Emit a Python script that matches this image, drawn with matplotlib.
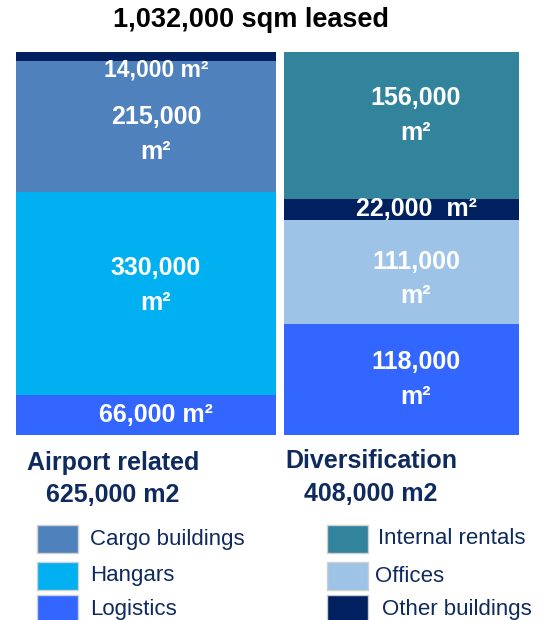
import matplotlib
matplotlib.use("Agg")
import matplotlib.pyplot as plt
from matplotlib.patches import Rectangle

plt.rcParams["font.family"] = ["Liberation Sans", "DejaVu Sans"]

# data (m², thousands) -- each bar is stacked bottom to top
bars = ["Airport related", "Diversification"]
bar_totals = ["625,000 m2", "408,000 m2"]
airport_segments = ["Logistics", "Hangars", "Cargo buildings", "Other buildings"]
airport_values = [66, 330, 215, 14]
airport_labels = ["66,000 m²", "330,000\nm²", "215,000\nm²", "14,000 m²"]
divers_segments = ["Logistics", "Offices", "Other buildings", "Internal rentals"]
divers_values = [118, 111, 22, 156]
divers_labels = ["118,000\nm²", "111,000\nm²", "22,000  m²", "156,000\nm²"]
title = "1,032,000 sqm leased"

COLORS = {
    "Cargo buildings": "#4F81BD",
    "Hangars": "#00B0F0",
    "Logistics": "#3366FF",
    "Internal rentals": "#31849B",
    "Offices": "#9DC3E6",
    "Other buildings": "#002060",
}
NAVY = "#0F2A5F"

W, H = 546, 620
fig = plt.figure(figsize=(W / 100, H / 100), dpi=100)
fig.patch.set_facecolor("white")


def fig_box(x0, y0, x1, y1):
    # pixel box (top-left origin) -> figure fraction
    return [x0 / W, 1 - y1 / H, (x1 - x0) / W, (y1 - y0) / H]


BAR_PX = 383  # bar height in pixels, used for label nudges
ax = fig.add_axes(fig_box(16, 52, 519, 52 + BAR_PX))
ax.set_xlim(0, 503)
ax.set_ylim(0, 1)
ax.axis("off")

# label nudges in pixels (positive = up), per segment, bottom to top
airport_nudge = [0, 8, -8, 0]
divers_nudge = [0, -7, 0, 10]

stacks = [
    (airport_segments, airport_values, airport_labels, airport_nudge, 0, 260, 140),
    (divers_segments, divers_values, divers_labels, divers_nudge, 268, 235, 400),
]
for segs, vals, labels, nudges, x0, width, label_x in stacks:
    total = sum(vals)
    bottom = 0.0
    for seg, v, lab, dy in zip(segs, vals, labels, nudges):
        frac = v / total
        ax.bar(x0, frac, width=width, bottom=bottom, align="edge",
               color=COLORS[seg], edgecolor="none")
        if seg == "Other buildings" and x0 == 0:
            # thin top strip, label sits just below it
            y_text = bottom - 0.025
            size = 16.5
        else:
            y_text = bottom + frac / 2 + dy / BAR_PX
            size = 18
        ax.text(label_x, y_text, lab, color="white", fontsize=size,
                fontweight="bold", ha="center", va="center", linespacing=1.55)
        bottom += frac

# overlay for title, category labels and legend
ov = fig.add_axes([0, 0, 1, 1])
ov.set_xlim(0, W)
ov.set_ylim(H, 0)
ov.axis("off")

ov.text(251, 20, title, fontsize=19.5, fontweight="bold", color="black",
        ha="center", va="center")

ov.text(113, 463, bars[0], fontsize=18, fontweight="bold", color=NAVY,
        ha="center", va="center")
ov.text(113, 495, bar_totals[0], fontsize=18, fontweight="bold", color=NAVY,
        ha="center", va="center")
ov.text(371, 461, bars[1], fontsize=18, fontweight="bold", color=NAVY,
        ha="center", va="center")
ov.text(371, 494, bar_totals[1], fontsize=18, fontweight="bold", color=NAVY,
        ha="center", va="center")

legend_left = ["Cargo buildings", "Hangars", "Logistics"]
legend_right = ["Internal rentals", "Offices", "Other buildings"]
rows_y = [539, 576, 609]
for i, name in enumerate(legend_left):
    ov.add_patch(Rectangle((37, rows_y[i] - 14), 41, 28, facecolor=COLORS[name],
                           edgecolor="#D0D0D0", linewidth=1))
    ov.text(90, rows_y[i], name, fontsize=16, color=NAVY, va="center", ha="left")
text_x_right = [378, 375, 382]
for i, name in enumerate(legend_right):
    ov.add_patch(Rectangle((327, rows_y[i] - 14), 41, 28, facecolor=COLORS[name],
                           edgecolor="#D0D0D0", linewidth=1))
    ov.text(text_x_right[i], rows_y[i], name, fontsize=16, color=NAVY,
            va="center", ha="left")

fig.savefig("out.png", dpi=100, facecolor="white")
